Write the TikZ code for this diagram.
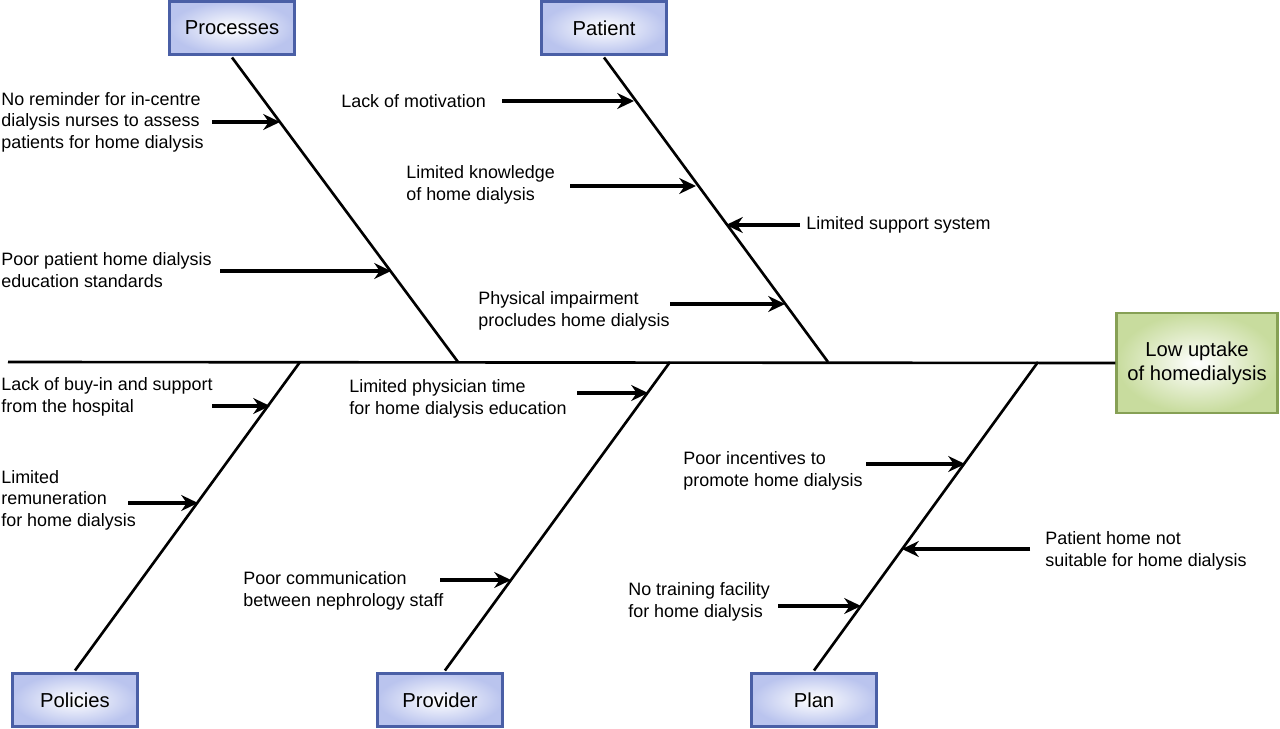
\documentclass[tikz,border=0pt]{standalone}
\usepackage{fontspec}
\setmainfont{Liberation Sans}
\usetikzlibrary{arrows.meta}
\definecolor{boxblue}{HTML}{4A5FA6}
\definecolor{boxfill}{HTML}{BAC4EE}
\definecolor{boxgreen}{HTML}{86A055}
\definecolor{greenfill}{HTML}{C8DC9E}
\begin{document}
\begin{tikzpicture}[x=0.02cm,y=-0.02cm,
  category/.style={draw=boxblue, line width=1.4pt, inner color=white, outer color=boxfill,
    minimum width=2.5cm, minimum height=1.06cm, font=\fontsize{11.5}{13.5}\selectfont},
  effect/.style={draw=boxgreen, line width=1.4pt, inner color=white, outer color=greenfill,
    minimum width=3.22cm, minimum height=2cm, align=center, font=\fontsize{11.5}{13.5}\selectfont},
  cause/.style={anchor=west, align=left, inner sep=0pt, font=\fontsize{10.2}{12.2}\selectfont},
  bone/.style={line width=1.5pt},
  hint/.style={line width=1.8pt, -{Stealth[length=9.5pt,width=9pt]}}]
\useasboundingbox (0,0) rectangle (1280,729);

% head and categories
\node[effect] (uptake) at (1197,363) {Low uptake\\of homedialysis};
\node[category] (processes) at (232,28) {Processes};
\node[category] (patient) at (604,28) {Patient};
\node[category] (policies) at (75,700) {Policies};
\node[category] (provider) at (440,700) {Provider};
\node[category] (plan) at (814,700) {Plan};

% spine and bones
\coordinate (tail) at (8,362);
\coordinate (j-processes) at (458,362);
\coordinate (j-patient) at (828,362);
\coordinate (j-policies) at (300,362);
\coordinate (j-provider) at (670,362);
\coordinate (j-plan) at (1038,362);
\draw[bone] (tail) -- (uptake.west);
\draw[bone] ([yshift=-1pt]processes.south) -- (j-processes);
\draw[bone] ([yshift=-1pt]patient.south) -- (j-patient);
\draw[bone] ([yshift=1pt]policies.north) -- (j-policies);
\draw[bone] ([xshift=2.8pt,yshift=1pt]provider.north) -- (j-provider);
\draw[bone] ([yshift=1pt]plan.north) -- (j-plan);

% processes
\node[cause] (reminder) at (1,122) {No reminder for in-centre\\dialysis nurses to assess\\patients for home dialysis};
\draw[hint] (212,122) -- (280,122);
\node[cause] (standards) at (1,270) {Poor patient home dialysis\\education standards};
\draw[hint] (220,271) -- (391,271);

% patient
\node[cause] (motivation) at (341,101) {Lack of motivation};
\draw[hint] (502,101) -- (634,101);
\node[cause] (knowledge) at (406,185) {Limited knowledge\\of home dialysis};
\draw[hint] (570,186) -- (696,186);
\node[cause] (support) at (806,225) {Limited support system};
\draw[hint] (800,225) -- (726,225);
\node[cause] (impairment) at (478,311) {Physical impairment\\procludes home dialysis};
\draw[hint] (670,304) -- (785,304);

% policies
\node[cause] (buyin) at (1,397) {Lack of buy-in and support\\from the hospital};
\draw[hint] (212,406) -- (270,406);
\node[cause] (remuneration) at (1,500) {Limited\\remuneration\\for home dialysis};
\draw[hint] (128,503) -- (198,503);

% provider
\node[cause] (physician) at (349,399) {Limited physician time\\for home dialysis education};
\draw[hint] (577,393) -- (648,393);
\node[cause] (communication) at (243,591) {Poor communication\\between nephrology staff};
\draw[hint] (440,580) -- (511,580);

% plan
\node[cause] (incentives) at (683,471) {Poor incentives to\\promote home dialysis};
\draw[hint] (866,464) -- (965,464);
\node[cause] (home) at (1045,551) {Patient home not\\suitable for home dialysis};
\draw[hint] (1030,549) -- (902,549);
\node[cause] (training) at (628,602) {No training facility\\for home dialysis};
\draw[hint] (778,606) -- (861,606);
\end{tikzpicture}
\end{document}
